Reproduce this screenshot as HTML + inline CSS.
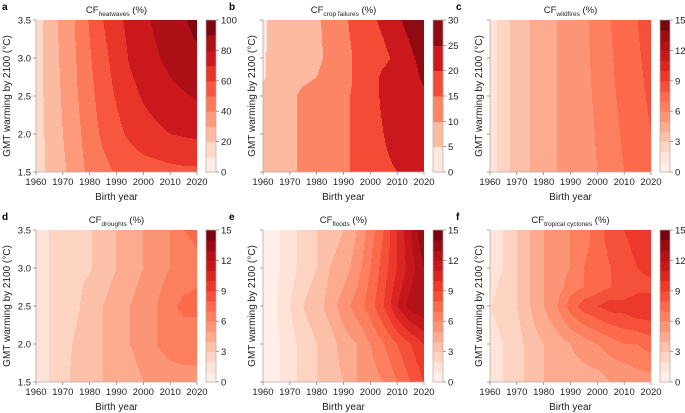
<!DOCTYPE html>
<html><head><meta charset="utf-8">
<style>
html,body{margin:0;padding:0;background:#fff;}
svg{display:block;font-family:"Liberation Sans",Arial,sans-serif;}
</style></head>
<body>
<svg id="fig" width="685" height="413" viewBox="0 0 685 413" xmlns="http://www.w3.org/2000/svg"></svg>
<script>
// ---------- data ----------
const birthYears = [1960,1965,1970,1975,1980,1985,1990,1995,2000,2005,2010,2015,2020];
const yTicks = [1.5,2.0,2.5,3.0,3.5];
const xTicks = [1960,1970,1980,1990,2000,2010,2020];

const heatwavesGmt = [1.5,2.0,2.5,3.0,3.5];
const heatwavesValues = [
 [15,22,28,36,42,47,51,53,55,56,57,58,58],
 [15,23,30,37,45,52,57,62,66,68,70,71,72],
 [15,24,31,39,47,55,61,67,71,74,77,79,81],
 [15,25,32,40,49,57,64,71,75,79,83,86,88],
 [15,25,33,41,51,60,67,73,78,82,86,89,93]
];
const heatwavesTicks = [0,20,40,60,80,100];

const cropGmt = [1.5,2.0,2.5,2.75,3.0,3.5];
const cropValues = [
 [7,8,9,11,12,13,14,16,18,19,20,22,23],
 [8,8,9,11,12,13,14,16,18,20,22,23,23],
 [8,8,9,11,12,13,14,16,18,21,22,23,24],
 [4,8,8,9,10,12,13,16,18,21,22,23,26],
 [4,8,8,8,9,11,13,16,18,19,21,24,27],
 [4,7,8,8,9,12,14,17,19,21,24,27,30]
];
const cropTicks = [0,5,10,15,20,25,30];

const wildfiresGmt = [1.5,2.5,3.5];
const wildfiresValues = [
 [1.5,2.5,3.5,4,4.5,5,5,5.5,6,6.5,7,7.3,7.8],
 [1.5,2.5,3.5,4,4.5,5,5.2,5.7,6.2,6.8,7.3,7.7,8.2],
 [1.5,2.5,3.5,4,4.5,5,5.3,5.8,6.4,7,7.6,8,8.6]
];
const wildfiresTicks = [0,3,6,9,12,15];

const droughtsGmt = [1.5,2.0,2.5,3.0,3.5];
const droughtsValues = [
 [1.5,2,2.5,3.5,3.8,4,4.2,4.5,5,5.5,5.6,5.6,5.6],
 [1.5,2,2.5,3.2,3.5,4,4.5,5,5.5,6,6.3,6.5,6.5],
 [1.5,2,2.5,2.8,3.5,4,4.5,5,5.5,6,6.8,7.2,7.2],
 [1.2,2,2.5,2.8,2.9,3.5,4,4.5,5,5.5,6,6.5,6.8],
 [1.2,2,2.5,2.8,2.9,3.5,4,4.5,5,5.5,6,7,7.2]
];
const droughtsTicks = [0,3,6,9,12,15];

const floodsGmt = [1.5,2.0,2.5,3.0,3.5];
const floodsValues = [
 [0.5,0.8,1.5,2.5,3,3.5,4,5,5.5,6,7,8,9],
 [0.5,0.8,1.5,2.5,3,3.5,4.5,5,6,7,8,9,10],
 [0.6,1,2,3,3.5,4.5,5.5,6.5,7.5,9,11,12.5,13],
 [0.5,0.8,1.5,2.5,3,4,4.5,5.5,7,8.5,10,11.5,13],
 [0.5,0.8,1.5,2.5,3,3.5,4,5,6.5,8,10,12,14]
];
const floodsTicks = [0,3,6,9,12,15];

const cyclonesGmt = [1.5,2.0,2.5,2.75,3.0,3.5];
const cyclonesValues = [
 [1.5,2,2.5,3.5,4,4,4.5,4.5,4.5,5,5,5.5,5.5],
 [1.5,2,2.5,3.5,4,4.5,5,5.5,6,6.5,7,7,7.5],
 [2,2.5,3,4,5,6,7.5,8.5,9,9.5,9.5,10,10],
 [1.5,2.5,3,4,5,5.5,6.5,7,7.5,8,8,8.5,8.5],
 [1,2,3,4,5,5.5,6,7,7.5,8,8.5,9,9.5],
 [1,2,3,4,5,5.5,6,6.5,7.5,8.5,9,9.5,10]
];
const cyclonesTicks = [0,3,6,9,12,15];

// ---------- helpers ----------
const NS = "http://www.w3.org/2000/svg";
const svg = document.getElementById('fig');
function mk(tag, attrs, parent){const e=document.createElementNS(NS,tag);for(const k in attrs)e.setAttribute(k,attrs[k]);(parent||svg).appendChild(e);return e;}
const redsStops = ["#fff5f0","#fee0d2","#fcbba1","#fc9272","#fb6a4a","#ef3b2c","#cb181d","#a50f15","#67000d"];
function hex2rgb(h){return [1,3,5].map(i=>parseInt(h.substr(i,2),16));}
const redsRgb = redsStops.map(hex2rgb);
function reds(t){t=Math.max(0,Math.min(1,t));const p=t*8;const i=Math.min(7,Math.floor(p));const f=p-i;const a=redsRgb[i],b=redsRgb[i+1];return "rgb("+a.map((v,k)=>Math.round(v+(b[k]-v)*f)).join(",")+")";}
function interp1(arr, v){
  if(v<=arr[0])return [0,0];
  for(let i=0;i<arr.length-1;i++){if(v<=arr[i+1])return [i,(v-arr[i])/(arr[i+1]-arr[i])];}
  return [arr.length-2,1];
}

const PW=161, PH=152;
const FS=9.5;
const panels = [
 {letter:'a',sub:'heatwaves',gmt:heatwavesGmt,vals:heatwavesValues,ticks:heatwavesTicks,max:100,step:10,x:36,y:20,ylab:true},
 {letter:'b',sub:'crop failures',gmt:cropGmt,vals:cropValues,ticks:cropTicks,max:30,step:5,x:263,y:20,ylab:false},
 {letter:'c',sub:'wildfires',gmt:wildfiresGmt,vals:wildfiresValues,ticks:wildfiresTicks,max:15,step:1,x:490,y:20,ylab:false},
 {letter:'d',sub:'droughts',gmt:droughtsGmt,vals:droughtsValues,ticks:droughtsTicks,max:15,step:1,x:36,y:230,ylab:true},
 {letter:'e',sub:'floods',gmt:floodsGmt,vals:floodsValues,ticks:floodsTicks,max:15,step:1,x:263,y:230,ylab:false},
 {letter:'f',sub:'tropical cyclones',gmt:cyclonesGmt,vals:cyclonesValues,ticks:cyclonesTicks,max:15,step:1,x:490,y:230,ylab:false}
];

panels.forEach(p=>{
  const g = mk('g',{});
  
  
  const xs = yr => p.x + (yr-1960)/60*PW;
  const ys = t => p.y + PH - (t-1.5)/2*PH;
  const nLev = Math.round(p.max/p.step);
  const colorFor = v => { let i=Math.floor(v/p.step); i=Math.max(0,Math.min(nLev-1,i)); return reds((i+0.5)/nLev); };
  const cg = mk('g',{'shape-rendering':'crispEdges'},g);
  
  
  const C=1;
  for(let py=0; py<PH; py+=C){
    const t = 1.5 + (PH-(py+C/2))/PH*2;
    const [ri,rf] = interp1(p.gmt,t);
    let runStart=0, runColor=null;
    for(let px=0; px<=PW; px+=C){
      let col=null;
      if(px<PW){
        const yr = 1960 + (px+C/2)/PW*60;
        const [ci,cf] = interp1(birthYears,yr);
        const r0=p.vals[ri], r1=p.vals[ri+1];
        const v0=r0[ci]+(r0[ci+1]-r0[ci])*cf;
        const v1=r1[ci]+(r1[ci+1]-r1[ci])*cf;
        col = colorFor(v0+(v1-v0)*rf);
      }
      if(col!==runColor){
        if(runColor!==null){
          const r=mk('rect',{x:p.x+runStart,y:p.y+py,width:px-runStart,height:C,fill:runColor},cg);
          
          
        }
        runStart=px; runColor=col;
      }
    }
  }
  const ax = mk('path',{d:`M${p.x},${p.y}V${p.y+PH}H${p.x+PW}`,stroke:'#b9a8a8',fill:'none','stroke-width':0.8},g);
  
  
  xTicks.forEach(yr=>{
    const X=xs(yr);
    const tk=mk('line',{x1:X,x2:X,y1:p.y+PH,y2:p.y+PH+3,stroke:'#777','stroke-width':0.7},g);
    
    
    const tl=mk('text',{x:X,y:p.y+PH+13,'font-size':FS,'text-anchor':'middle',fill:'#222'},g);
    tl.textContent=yr;
    
    
  });
  yTicks.forEach(t=>{
    const Y=ys(t);
    const tk=mk('line',{x1:p.x-3,x2:p.x,y1:Y,y2:Y,stroke:'#777','stroke-width':0.7},g);
    
    
    if(p.ylab){
      const tl=mk('text',{x:p.x-5,y:Y+3.5,'font-size':FS,'text-anchor':'end',fill:'#222'},g);
      tl.textContent=t.toFixed(1);
      
      
    }
  });
  const xt=mk('text',{x:p.x+PW/2,y:p.y+PH+28,'font-size':10,'text-anchor':'middle',fill:'#222'},g);
  xt.textContent='Birth year';
  
  
  const ylx = p.ylab ? p.x-26 : p.x-8;
  const yt=mk('text',{x:ylx,y:p.y+PH/2,'font-size':10,'text-anchor':'middle',fill:'#222',transform:`rotate(-90 ${ylx} ${p.y+PH/2})`},g);
  yt.textContent='GMT warming by 2100 (°C)';
  
  
  const tt=mk('text',{x:p.x+PW/2,y:p.y-7,'font-size':9.5,'text-anchor':'middle',fill:'#222'},g);
  
  
  const s1=mk('tspan',{},tt); s1.textContent='CF';
  const s2=mk('tspan',{'font-size':6.5,dy:3},tt); s2.textContent=p.sub;
  const s3=mk('tspan',{dy:-3},tt); s3.textContent=' (%)';
  const lt=mk('text',{x:p.x-34,y:p.y-10,'font-size':10,'font-weight':'bold',fill:'#000'},g);
  lt.textContent=p.letter;
  
  
  const cbx=p.x+PW+9, cbw=10;
  const cb=mk('g',{'shape-rendering':'crispEdges'},g);
  
  
  for(let i=0;i<nLev;i++){
    const y0=p.y+PH-(i+1)/nLev*PH;
    const r=mk('rect',{x:cbx,y:y0,width:cbw,height:PH/nLev+0.5,fill:reds((i+0.5)/nLev)},cb);
    
    
  }
  const cbf=mk('rect',{x:cbx,y:p.y,width:cbw,height:PH,fill:'none',stroke:'#b9a8a8','stroke-width':0.7},g);
  
  
  p.ticks.forEach(v=>{
    const Y=p.y+PH-v/p.max*PH;
    const tk=mk('line',{x1:cbx+cbw,x2:cbx+cbw+3,y1:Y,y2:Y,stroke:'#777','stroke-width':0.7},g);
    
    
    const tl=mk('text',{x:cbx+cbw+5,y:Y+3.5,'font-size':FS,fill:'#222'},g);
    tl.textContent=v;
    
    
  });
});
</script>
</body></html>
